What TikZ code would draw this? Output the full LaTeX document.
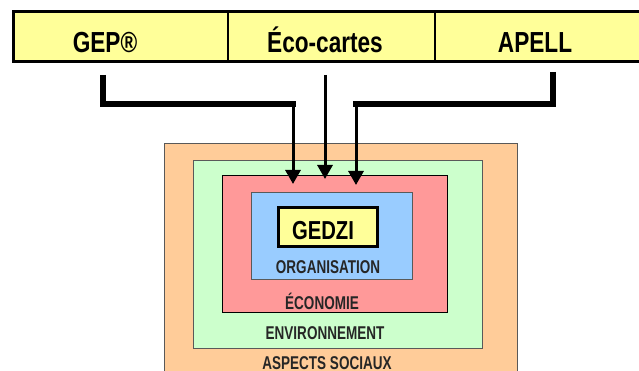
\documentclass[tikz,border=0pt]{standalone}
\usepackage{fontspec}
\newfontfamily\narrowfont[FakeStretch=0.78]{Liberation Sans}
\newfontfamily\zonefont[FakeStretch=0.73]{Liberation Sans}
\usetikzlibrary{arrows.meta}

\definecolor{outilfill}{HTML}{FFFF99}
\definecolor{socialfill}{HTML}{FFCC99}
\definecolor{envfill}{HTML}{CCFFCC}
\definecolor{ecofill}{HTML}{FF9999}
\definecolor{orgfill}{HTML}{99CCFF}

\tikzset{
  outillabel/.style={font=\narrowfont\bfseries\fontsize{29}{30}\selectfont, anchor=base, inner sep=0pt},
  zonelabel/.style={font=\zonefont\bfseries\fontsize{18.5}{19}\selectfont, anchor=base, inner sep=0pt, text=black!85},
  zonebox/.style={draw=black!65, line width=1pt},
  bracket/.style={line width=5.5pt},
  feed/.style={line width=3pt, -{Triangle[width=15pt,length=14pt]}},
}

\begin{document}
\begin{tikzpicture}[x=1pt,y=-1pt]
    \clip (0,0) rectangle (639,371);

    % Barre des outils
    \fill[outilfill] (13,12) rectangle (660,62);
    \draw[line width=2pt] (228,12) -- (228,62);
    \draw[line width=2pt] (435,12) -- (435,62);
    \draw[line width=3pt] (13,12) rectangle (660,62);
    \node[outillabel] (gep) at (105,53) {GEP®};
    \node[outillabel] (eco) at (325,53) {Éco-cartes};
    \node[outillabel] (apell) at (535,53) {APELL};

    % Zones emboitees
    \draw[zonebox, fill=socialfill] (164,144) rectangle (517,400);
    \draw[zonebox, fill=envfill] (193,161) rectangle (482,348);
    \draw[zonebox, draw=black, fill=ecofill] (222,176) rectangle (447,312);
    \draw[zonebox, fill=orgfill] (251,193) rectangle (412,279);
    \draw[line width=3pt, fill=outilfill] (278,208) rectangle (377,246);

    \node[font=\narrowfont\bfseries\fontsize{26}{27}\selectfont, anchor=base, inner sep=0pt] (gedzi) at (323,240) {GEDZI};
    \node[zonelabel] (orga) at (328,273) {ORGANISATION};
    \node[zonelabel] (econ) at (322,309) {ÉCONOMIE};
    \node[zonelabel] (envi) at (325,339) {ENVIRONNEMENT};
    \node[zonelabel] (soci) at (327,369) {ASPECTS SOCIAUX};

    % Fleches
    \coordinate (gepfoot) at (103,75);
    \coordinate (gepturn) at (293,104);
    \coordinate (geptip) at (293,184);
    \coordinate (ecofoot) at (325,75);
    \coordinate (ecotip) at (325,179);
    \coordinate (apellfoot) at (553,72);
    \coordinate (apellturn) at (356,104);
    \coordinate (apelltip) at (356,185);

    \draw[bracket] (gepfoot) |- ([xshift=2.75pt]gepturn);
    \draw[feed] (gepturn) -- (geptip);
    \draw[feed] (ecofoot) -- (ecotip);
    \draw[bracket] (apellfoot) |- ([xshift=-2.75pt]apellturn);
    \draw[feed] (apellturn) -- (apelltip);
\end{tikzpicture}
\end{document}
